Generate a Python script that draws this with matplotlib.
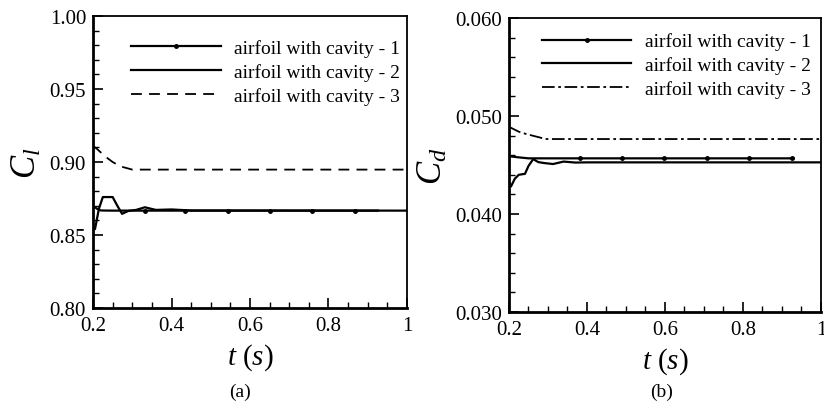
import matplotlib
matplotlib.use("Agg")
import matplotlib.pyplot as plt
from matplotlib.ticker import MultipleLocator, FormatStrFormatter

plt.rcParams['font.family'] = ['Liberation Serif', 'DejaVu Serif']
plt.rcParams['mathtext.fontset'] = 'custom'
plt.rcParams['mathtext.rm'] = 'Liberation Serif'
plt.rcParams['mathtext.it'] = 'Liberation Serif:italic'

labels = ["airfoil with cavity - 1", "airfoil with cavity - 2", "airfoil with cavity - 3"]

# (a) lift coefficient
t_cl1 = [0.20, 0.21, 0.22, 0.25, 0.30, 0.332, 0.434, 0.544, 0.651, 0.758, 0.868, 0.926]
cl1 = [0.870, 0.868, 0.8668, 0.8667, 0.8667, 0.8667, 0.8667, 0.8667, 0.8667, 0.8667, 0.8667, 0.8667]
cl1_marks = [5, 6, 7, 8, 9, 10]
t_cl2 = [0.20, 0.205, 0.215, 0.225, 0.25, 0.262, 0.274, 0.29, 0.31, 0.332, 0.36, 0.40, 0.45, 1.00]
cl2 = [0.856, 0.854, 0.868, 0.876, 0.876, 0.870, 0.8645, 0.8665, 0.8672, 0.8690, 0.8672, 0.8675, 0.8668, 0.8667]
t_cl3 = [0.20, 0.21, 0.23, 0.25, 0.27, 0.30, 1.00]
cl3 = [0.911, 0.909, 0.904, 0.900, 0.897, 0.8948, 0.8948]

# (b) drag coefficient
t_cd1 = [0.20, 0.22, 0.25, 0.30, 0.382, 0.49, 0.597, 0.708, 0.815, 0.926, 0.93]
cd1 = [0.0459, 0.0458, 0.04568, 0.04568, 0.04568, 0.04568, 0.04568, 0.04568, 0.04568, 0.04568, 0.04568]
cd1_marks = [4, 5, 6, 7, 8, 9]
t_cd2 = [0.20, 0.205, 0.215, 0.225, 0.241, 0.25, 0.262, 0.275, 0.29, 0.313, 0.34, 0.37, 0.40, 1.00]
cd2 = [0.0433, 0.0428, 0.0436, 0.0440, 0.0441, 0.0449, 0.0456, 0.0453, 0.0452, 0.0451, 0.04535, 0.04525, 0.04527, 0.04527]
t_cd3 = [0.20, 0.21, 0.225, 0.241, 0.26, 0.28, 0.292, 1.00]
cd3 = [0.0489, 0.0487, 0.0484, 0.0482, 0.0480, 0.0478, 0.04765, 0.04765]

fig = plt.figure(figsize=(8.24, 4.02), dpi=100)
ax1 = fig.add_axes([0.1129, 0.2313, 0.381, 0.7264])
ax2 = fig.add_axes([0.6177, 0.2214, 0.3786, 0.7313])


def style_axes(ax):
    for side in ['left', 'bottom']:
        ax.spines[side].set_linewidth(2.0)
    for side in ['top', 'right']:
        ax.spines[side].set_linewidth(1.3)
    ax.tick_params(which='both', direction='in', top=False, right=False, labelsize=15)
    ax.tick_params(axis='x', pad=6)
    ax.tick_params(axis='y', pad=5)
    ax.tick_params(which='major', length=7, width=1.2)
    ax.tick_params(which='minor', length=4, width=1.0)
    ax.xaxis.set_minor_locator(MultipleLocator(0.05))
    ax.set_xlim(0.2, 1.0)
    ax.set_xticks([0.2, 0.4, 0.6, 0.8, 1.0])
    ax.set_xticklabels(['0.2', '0.4', '0.6', '0.8', '1'])
    ax.set_xlabel(r'$t\ (s)$', fontsize=21, labelpad=4)


# panel (a)
ax1.plot(t_cl1, cl1, color='black', lw=1.6, marker='o', ms=2.5,
         markevery=cl1_marks, label=labels[0])
ax1.plot(t_cl2, cl2, color='black', lw=1.6, label=labels[1])
ax1.plot(t_cl3, cl3, color='black', lw=1.3, linestyle=(0, (6, 4)), label=labels[2])
style_axes(ax1)
ax1.set_ylim(0.80, 1.00)
ax1.yaxis.set_major_locator(MultipleLocator(0.05))
ax1.yaxis.set_minor_locator(MultipleLocator(0.01))
ax1.yaxis.set_major_formatter(FormatStrFormatter('%.2f'))
ax1.set_ylabel(r'$C_l$', fontsize=25, labelpad=4)
ax1.legend(loc='upper right', bbox_to_anchor=(1.016, 0.962), frameon=False,
           fontsize=14, handlelength=4.6, handletextpad=0.7,
           labelspacing=0.32, borderaxespad=0.2)

# panel (b)
ax2.plot(t_cd1, cd1, color='black', lw=1.6, marker='o', ms=2.5,
         markevery=cd1_marks, label=labels[0])
ax2.plot(t_cd2, cd2, color='black', lw=1.6, label=labels[1])
ax2.plot(t_cd3, cd3, color='black', lw=1.3, linestyle=(0, (7, 2, 1.5, 2)), label=labels[2])
style_axes(ax2)
ax2.set_ylim(0.030, 0.060)
ax2.yaxis.set_major_locator(MultipleLocator(0.010))
ax2.yaxis.set_minor_locator(MultipleLocator(0.002))
ax2.yaxis.set_major_formatter(FormatStrFormatter('%.3f'))
ax2.set_ylabel(r'$C_d$', fontsize=25, labelpad=4)
ax2.legend(loc='upper right', bbox_to_anchor=(1.005, 0.99), frameon=False,
           fontsize=14, handlelength=4.6, handletextpad=0.7,
           labelspacing=0.3, borderaxespad=0.2)

fig.text(240 / 824, 1 - 392 / 402, '(a)', ha='center', va='center', fontsize=14)
fig.text(662 / 824, 1 - 392 / 402, '(b)', ha='center', va='center', fontsize=14)

fig.savefig('out.png', dpi=100)
